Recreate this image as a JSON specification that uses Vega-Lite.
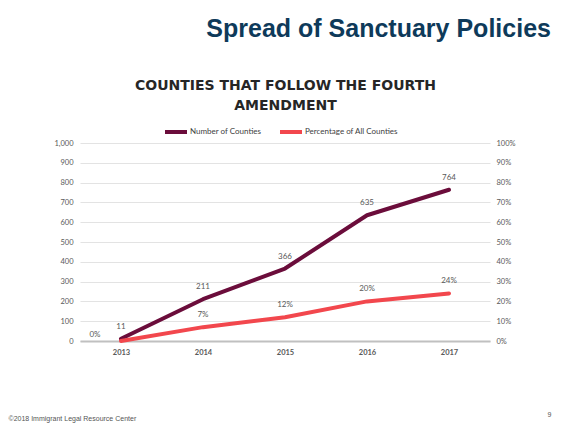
{
  "$schema": "https://vega.github.io/schema/vega-lite/v6.json",
  "width": 410,
  "height": 198,
  "padding": {"left": 8, "top": 17, "right": 8, "bottom": 5},
  "background": "white",
  "title": {"text": "Spread of Sanctuary Policies", "anchor": "end", "frame": "bounds", "font": "Liberation Sans", "fontSize": 25, "fontWeight": "bold", "color": "#0e3a5a", "offset": 36},
  "data": {"values": [
    {"year": "2013", "counties": 11, "pct": 0.0},
    {"year": "2014", "counties": 211, "pct": 0.07},
    {"year": "2015", "counties": 366, "pct": 0.12},
    {"year": "2016", "counties": 635, "pct": 0.20},
    {"year": "2017", "counties": 764, "pct": 0.24}
  ]},
  "encoding": {
    "x": {"field": "year", "type": "ordinal", "scale": {"type": "point", "padding": 0.5},
      "axis": {"labelAngle": 0, "ticks": false, "domainColor": "#c0c0c0", "domainWidth": 2, "labelFont": "Lato", "labelFontSize": 7.5, "labelFontWeight": "bold", "labelColor": "#595959", "labelPadding": 7,
        "title": "©2018 Immigrant Legal Resource Center", "titleX": -72, "titleY": 77, "titleAlign": "left", "titleBaseline": "middle", "titleFont": "Liberation Sans", "titleFontSize": 7, "titleFontWeight": "normal", "titleColor": "#555555"}}
  },
  "layer": [
    {
      "encoding": {"y": {"field": "counties", "type": "quantitative", "scale": {"domain": [0, 1000]},
        "axis": {"values": [0,100,200,300,400,500,600,700,800,900,1000], "format": ",d", "domain": false, "ticks": false, "gridColor": "#e3e3e3", "gridWidth": 1, "labelFont": "Lato", "labelFontSize": 7.5, "labelColor": "#595959", "labelPadding": 7,
          "title": ["COUNTIES THAT FOLLOW THE FOURTH", "AMENDMENT"], "titleAngle": 0, "titleX": 205, "titleY": -65, "titleAlign": "center", "titleBaseline": "top", "titleLineHeight": 20, "titleFont": "DejaVu Sans", "titleFontSize": 14, "titleFontWeight": "bold", "titleColor": "#262626"}}},
      "layer": [
        {"mark": {"type": "line", "strokeWidth": 4, "strokeCap": "round", "strokeJoin": "round"},
         "encoding": {"color": {"datum": "Number of Counties", "scale": {"domain": ["Number of Counties", "Percentage of All Counties"], "range": ["#6b0d3b", "#f2474d"]},
           "legend": {"orient": "none", "legendX": 83, "legendY": -24, "direction": "horizontal", "title": null, "symbolType": "stroke", "symbolStrokeWidth": 4, "symbolSize": 484, "labelFont": "Lato", "labelFontSize": 8, "labelColor": "#404040", "columnPadding": 10, "labelOffset": 1}}}},
        {"mark": {"type": "text", "dy": -12, "font": "Lato", "fontSize": 8, "color": "#595959"},
         "encoding": {"text": {"field": "counties", "type": "quantitative"}}}
      ]
    },
    {
      "encoding": {"y": {"field": "pct", "type": "quantitative", "scale": {"domain": [0, 1]},
        "axis": {"orient": "right", "values": [0,0.1,0.2,0.3,0.4,0.5,0.6,0.7,0.8,0.9,1], "format": ".0%", "domain": false, "ticks": false, "grid": false, "labelFont": "Lato", "labelFontSize": 7.5, "labelColor": "#595959", "labelPadding": 6,
          "title": "9", "titleAngle": 0, "titleX": 59, "titleY": 271, "titleAlign": "center", "titleBaseline": "middle", "titleFont": "Liberation Sans", "titleFontSize": 7, "titleFontWeight": "normal", "titleColor": "#555555"}}},
      "layer": [
        {"mark": {"type": "line", "strokeWidth": 4, "strokeCap": "round", "strokeJoin": "round"},
         "encoding": {"color": {"datum": "Percentage of All Counties"}}},
        {"transform": [{"filter": "datum.pct > 0"}],
         "mark": {"type": "text", "dy": -12, "font": "Lato", "fontSize": 8, "color": "#595959"},
         "encoding": {"text": {"field": "pct", "type": "quantitative", "format": ".0%"}}},
        {"transform": [{"filter": "datum.pct == 0"}],
         "mark": {"type": "text", "dx": -26, "dy": -6, "font": "Lato", "fontSize": 8, "color": "#595959"},
         "encoding": {"text": {"field": "pct", "type": "quantitative", "format": ".0%"}}}
      ]
    }
  ],
  "resolve": {"scale": {"y": "independent"}},
  "config": {"view": {"stroke": null}}
}
